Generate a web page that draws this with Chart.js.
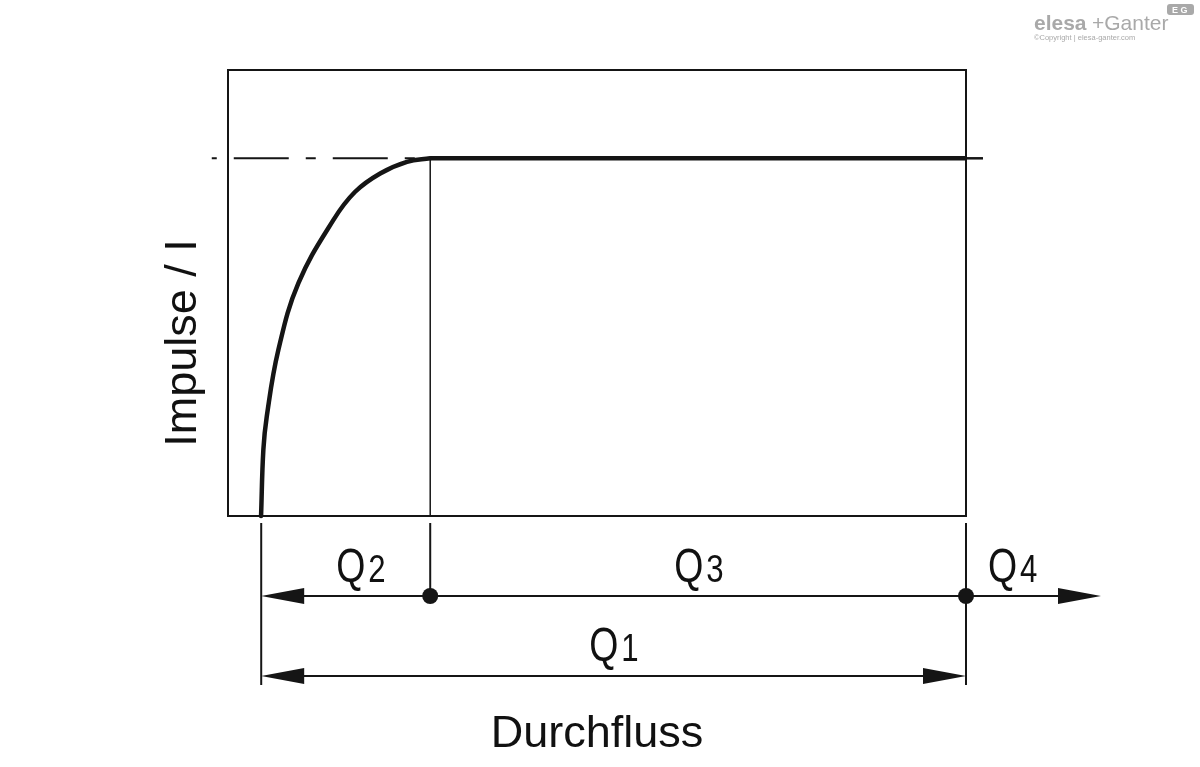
<!DOCTYPE html>
<html>
<head>
<meta charset="utf-8">
<script src="https://cdn.jsdelivr.net/npm/chart.js@4"></script>
<style>
  html, body { margin: 0; padding: 0; background: #fff; }
  #wrap { position: relative; width: 1200px; height: 767px; }
</style>
</head>
<body>
<div id="wrap"><canvas id="chart"></canvas></div>
<script>
/* ── Data (flow in % of chart width, pulses in % of chart height) ── */
const riseFlow   = [4.48, 4.79, 5.25, 6.82, 9.54, 14.29, 17.23, 20.62, 24.25, 27.4];
const risePulses = [0, 14.8, 22.3, 37.2, 52.2, 66.4, 72.7, 76.8, 79.4, 80.2];
const plateauFlow   = [27.4, 100];
const plateauPulses = [80.2, 80.2];

const rangeBounds = [4.5, 27.4, 100];          // start of Q2, Q2|Q3, Q3|Q4
const rangeNames  = ['Q2', 'Q3', 'Q4', 'Q1'];
const pulseMax    = 80.2;
const refLineX    = [-2.2, 27.4];              // dash-dot guide on the left
const tailX       = [100, 102.3];              // short stub past the frame

const INK = '#151515';
const FONT = '"Liberation Sans", Arial, sans-serif';

/* ── Helpers ─────────────────────────────────────────────────── */
function arrow(ctx, tipX, y, dir) {
    ctx.beginPath();
    ctx.moveTo(tipX, y);
    ctx.lineTo(tipX - dir * 43, y - 8);
    ctx.lineTo(tipX - dir * 43, y + 8);
    ctx.closePath();
    ctx.fill();
}

function dot(ctx, x, y) {
    ctx.beginPath();
    ctx.arc(x, y, 8, 0, Math.PI * 2);
    ctx.fill();
}

function line(ctx, x1, y1, x2, y2) {
    ctx.beginPath();
    ctx.moveTo(x1, y1);
    ctx.lineTo(x2, y2);
    ctx.stroke();
}

/* Q with smaller index, both a little condensed */
function qLabel(ctx, name, x, base) {
    ctx.save();
    ctx.translate(x, base);
    ctx.scale(0.78, 1);
    ctx.font = '48px ' + FONT;
    ctx.fillText(name[0], 0, 0);
    ctx.restore();
    ctx.save();
    ctx.translate(x + 32, base);
    ctx.scale(0.82, 1);
    ctx.font = '38px ' + FONT;
    ctx.fillText(name.slice(1), 0, 0);
    ctx.restore();
}

/* ── Frame, dimension lines, labels ──────────────────────────── */
const diagramPlugin = {
    id: 'diagram',
    beforeDatasetsDraw(chart) {
        const { ctx, chartArea: a } = chart;
        ctx.save();
        ctx.strokeStyle = INK;
        ctx.lineWidth = 2;
        ctx.strokeRect(a.left, a.top, a.right - a.left, a.bottom - a.top);
        ctx.restore();
    },
    afterDatasetsDraw(chart) {
        const { ctx, chartArea: a, scales } = chart;
        const xs = rangeBounds.map(v => scales.x.getPixelForValue(v));
        const yDim1 = a.bottom + 80;
        const yDim2 = a.bottom + 160;

        ctx.save();
        ctx.strokeStyle = INK;
        ctx.fillStyle = INK;
        ctx.lineWidth = 2;

        /* extension lines */
        line(ctx, xs[0], a.bottom + 7, xs[0], yDim2 + 9);
        line(ctx, xs[1], a.bottom + 7, xs[1], yDim1);
        line(ctx, xs[2], a.bottom + 7, xs[2], yDim2 + 9);

        /* Q2 / Q3 / Q4 line */
        line(ctx, xs[0] + 10, yDim1, xs[2] + 125, yDim1);
        arrow(ctx, xs[0], yDim1, -1);
        arrow(ctx, xs[2] + 135, yDim1, 1);
        dot(ctx, xs[1], yDim1);
        dot(ctx, xs[2], yDim1);

        /* Q1 line */
        line(ctx, xs[0] + 10, yDim2, xs[2] - 10, yDim2);
        arrow(ctx, xs[0], yDim2, -1);
        arrow(ctx, xs[2], yDim2, 1);

        /* Q labels */
        ctx.fillStyle = '#111';
        qLabel(ctx, rangeNames[0], xs[0] + 75, yDim1 - 14);
        qLabel(ctx, rangeNames[1], xs[1] + 244, yDim1 - 14);
        qLabel(ctx, rangeNames[2], xs[2] + 22, yDim1 - 14);
        qLabel(ctx, rangeNames[3], xs[0] + 328, yDim2 - 15);

        /* axis titles */
        ctx.font = '45px ' + FONT;
        ctx.textAlign = 'center';
        ctx.fillText('Durchfluss', 597, 747);
        ctx.save();
        ctx.translate(196, 343);
        ctx.rotate(-Math.PI / 2);
        ctx.fillText('Impulse / I', 0, 0);
        ctx.restore();

        /* watermark */
        ctx.fillStyle = '#a9a9a9';
        ctx.textAlign = 'left';
        ctx.font = 'bold 21px ' + FONT;
        ctx.fillText('elesa', 1034, 30);
        ctx.font = '21px ' + FONT;
        ctx.fillText('+Ganter', 1092, 30);
        ctx.font = '7.5px ' + FONT;
        ctx.fillText('©Copyright | elesa-ganter.com', 1034, 40);
        ctx.beginPath();
        ctx.roundRect(1167, 4, 27, 11, 3);
        ctx.fill();
        ctx.fillStyle = '#fff';
        ctx.font = 'bold 9px ' + FONT;
        ctx.fillText('E G', 1172, 13);

        ctx.restore();
    },
};

/* ── Chart ───────────────────────────────────────────────────── */
const toPoints = (xs, ys) => xs.map((x, i) => ({ x, y: ys[i] }));

new Chart(document.getElementById('chart'), {
    type: 'line',
    data: {
        datasets: [
            {
                label: 'Impulse (Anstieg)',
                data: toPoints(riseFlow, risePulses),
                borderColor: INK,
                borderWidth: 4.5,
                borderCapStyle: 'round',
                tension: 0.4,
                pointRadius: 0,
                order: 0,
            },
            {
                label: 'Impulse (konstant)',
                data: toPoints(plateauFlow, plateauPulses),
                borderColor: INK,
                borderWidth: 4.5,
                pointRadius: 0,
                order: 0,
            },
            {
                label: 'guide',
                data: refLineX.map(x => ({ x, y: pulseMax })),
                borderColor: INK,
                borderWidth: 2,
                borderDash: [55, 17, 10, 17],
                borderDashOffset: 77,
                pointRadius: 0,
                order: 2,
            },
            {
                label: 'tail',
                data: tailX.map(x => ({ x, y: pulseMax })),
                borderColor: INK,
                borderWidth: 2.5,
                pointRadius: 0,
                order: 2,
            },
            {
                label: 'Q2 limit',
                data: [{ x: rangeBounds[1], y: 0 }, { x: rangeBounds[1], y: pulseMax }],
                borderColor: INK,
                borderWidth: 1.5,
                pointRadius: 0,
                order: 1,
            },
        ],
    },
    options: {
        responsive: true,
        maintainAspectRatio: false,
        animation: false,
        clip: false,
        layout: { padding: { left: 228, right: 234, top: 70, bottom: 251 } },
        plugins: { legend: { display: false }, tooltip: { enabled: false } },
        scales: {
            x: { type: 'linear', min: 0, max: 100, display: false },
            y: { type: 'linear', min: 0, max: 100, display: false },
        },
    },
    plugins: [diagramPlugin],
});
</script>
</body>
</html>
